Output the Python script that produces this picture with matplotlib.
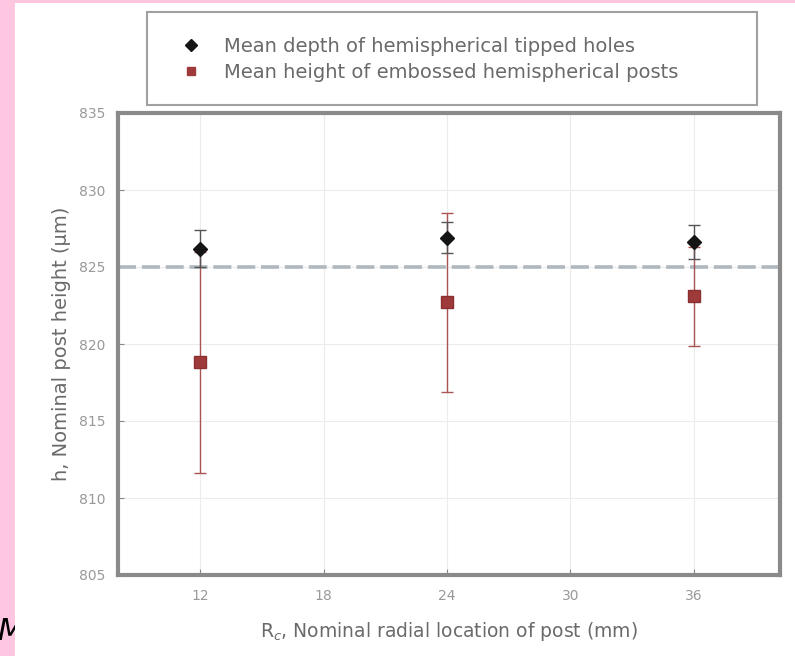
import matplotlib.pyplot as plt
from matplotlib.patches import Rectangle

# post radial locations (mm)
radius = [12, 24, 36]
# mean depth of hemispherical tipped holes (um)
hole_depth = [826.2, 826.9, 826.6]
hole_err = [1.2, 1.0, 1.1]
# mean height of embossed hemispherical posts (um)
post_height = [818.8, 822.7, 823.1]
post_err = [7.2, 5.8, 3.2]

nominal = 825
xticks = [12, 18, 24, 30, 36]
yticks = [805, 810, 815, 820, 825, 830, 835]

plt.rcParams["font.family"] = ["DejaVu Sans"]

W, H = 795, 656
fig = plt.figure(figsize=(W / 100, H / 100), dpi=100)

# slide background: pink border, white picture area
fig.add_artist(Rectangle((0, 0), 1, 1, transform=fig.transFigure,
                         facecolor="#ffc6e2", edgecolor="none", zorder=-3))
fig.text(-3 / W, 1 - 640 / H, "M", fontsize=22, style="italic", color="black",
         zorder=-2)
fig.add_artist(Rectangle((15 / W, 0), 1, 1 - 3 / H, transform=fig.transFigure,
                         facecolor="white", edgecolor="none", zorder=-1))

ax = fig.add_axes([118 / W, 1 - 575 / H, 662 / W, 462 / H])
ax.set_facecolor("white")

ax.axhline(nominal, color="#b0b8be", lw=2.6, ls=(0, (5, 1.6)), zorder=1)

ax.errorbar(radius, post_height, yerr=post_err, fmt="s", color="#9e3a3a",
            ecolor="#a85454", elinewidth=1.0, capsize=4, capthick=1.0,
            markersize=8, markeredgecolor="#8a3030", zorder=3)
ax.errorbar(radius, hole_depth, yerr=hole_err, fmt="D", color="#151515",
            ecolor="#555555", elinewidth=1.0, capsize=4, capthick=1.0,
            markersize=7, zorder=4)

ax.set_xlim(8, 40.2)
ax.set_ylim(805, 835)
ax.set_xticks(xticks)
ax.set_yticks(yticks)
ax.grid(True, color="#ececec", lw=0.8)
ax.set_axisbelow(True)
ax.tick_params(direction="in", length=4, color="#888888", labelcolor="#999999",
               labelsize=10)
ax.tick_params(axis="x", pad=10)
ax.tick_params(axis="y", pad=9)
for sp in ax.spines.values():
    sp.set_linewidth(3)
    sp.set_color("#8a8a8a")

ax.set_xlabel("R$_c$, Nominal radial location of post (mm)", fontsize=13.5,
              color="#6a6a6a", labelpad=12)
ax.set_ylabel("h, Nominal post height (\u03bcm)", fontsize=14,
              color="#6a6a6a", labelpad=6)

# legend box sits above the axes
fig.add_artist(Rectangle((147 / W, 1 - 105 / H), 610 / W, 93 / H,
                         transform=fig.transFigure, facecolor="white",
                         edgecolor="#a0a0a0", lw=1.5, zorder=2))
h1 = ax.plot([], [], "D", color="#151515", markersize=6)[0]
h2 = ax.plot([], [], "s", color="#9e3a3a", markersize=6)[0]
fig.legend([h1, h2],
           ["Mean depth of hemispherical tipped holes",
            "Mean height of embossed hemispherical posts"],
           loc="upper left", bbox_to_anchor=(162 / W, 1 - 19 / H),
           frameon=False, fontsize=14, labelcolor="#6a6a6a",
           handletextpad=1.1, labelspacing=0.4, handlelength=1.2)

fig.savefig("out.png", dpi=100)
